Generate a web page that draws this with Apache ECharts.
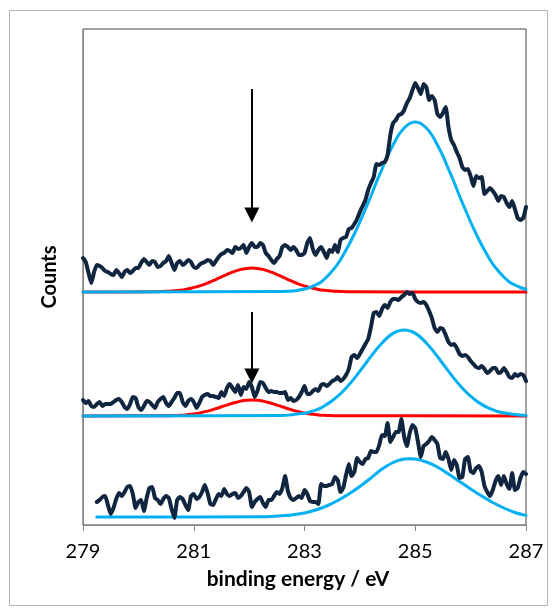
<!DOCTYPE html>
<html><head><meta charset="utf-8">
<script src="https://cdn.jsdelivr.net/npm/echarts@6/dist/echarts.min.js"></script>
<style>html,body{margin:0;padding:0;background:#fff}#c{width:552px;height:613px}</style>
</head><body><div id="c"></div><script>
// Measurement energies (eV), 0.05 eV steps
const energy = [279,279.05,279.1,279.15,279.2,279.25,279.3,279.35,279.4,279.45,279.5,279.55,279.6,279.65,279.7,279.75,279.8,279.85,279.9,279.95,
280,280.05,280.1,280.15,280.2,280.25,280.3,280.35,280.4,280.45,280.5,280.55,280.6,280.65,280.7,280.75,280.8,280.85,280.9,280.95,
281,281.05,281.1,281.15,281.2,281.25,281.3,281.35,281.4,281.45,281.5,281.55,281.6,281.65,281.7,281.75,281.8,281.85,281.9,281.95,
282,282.05,282.1,282.15,282.2,282.25,282.3,282.35,282.4,282.45,282.5,282.55,282.6,282.65,282.7,282.75,282.8,282.85,282.9,282.95,
283,283.05,283.1,283.15,283.2,283.25,283.3,283.35,283.4,283.45,283.5,283.55,283.6,283.65,283.7,283.75,283.8,283.85,283.9,283.95,
284,284.05,284.1,284.15,284.2,284.25,284.3,284.35,284.4,284.45,284.5,284.55,284.6,284.65,284.7,284.75,284.8,284.85,284.9,284.95,
285,285.05,285.1,285.15,285.2,285.25,285.3,285.35,285.4,285.45,285.5,285.55,285.6,285.65,285.7,285.75,285.8,285.85,285.9,285.95,
286,286.05,286.1,286.15,286.2,286.25,286.3,286.35,286.4,286.45,286.5,286.55,286.6,286.65,286.7,286.75,286.8,286.85,286.9,286.95,287];

// Measured spectra (offset, arbitrary counts)
const countsTop = [267,263,252,242,253,260,259,257,254,253,251,250,255,252,248,253,255,252,254,257,
257,262,266,263,260,264,263,258,259,262,264,269,262,255,262,264,260,262,265,263,
258,257,260,262,263,265,264,260,264,268,271,272,275,274,272,278,276,277,280,272,
278,282,278,278,282,280,272,269,265,262,266,269,278,280,278,275,278,275,270,270,
272,282,287,276,270,275,278,273,267,275,273,280,273,285,287,288,296,297,301,306,
313,319,325,335,342,348,361,360,362,363,370,390,402,405,410,411,415,422,427,435,
442,437,431,441,438,425,429,425,411,408,412,418,398,385,380,373,367,358,355,356,
349,339,349,347,348,331,334,337,334,330,324,329,328,322,318,324,316,307,305,307,318];

const countsMid = [125,122,124,119,118,121,123,119,121,121,121,123,125,126,123,118,116,121,128,127,
118,115,119,124,123,120,117,123,126,128,122,119,123,127,132,132,123,119,124,126,
123,117,122,128,130,131,129,129,128,127,133,129,137,141,137,133,140,130,138,136,
143,138,128,134,143,142,137,133,134,133,133,132,132,133,125,127,124,125,128,133,
139,131,131,134,136,134,140,141,139,141,144,145,148,144,146,150,156,168,170,167,
171,176,181,186,198,212,213,209,216,220,217,223,226,226,225,228,230,233,231,232,
226,223,222,223,220,214,207,197,193,197,196,190,183,180,181,177,171,169,170,168,
164,161,158,157,159,156,152,154,157,157,152,153,157,153,148,147,151,149,151,150,144];

// bottom spectrum starts at 279.25 eV
const energyBottom = energy.slice(5);
const countsBottom = [23,25,28,29,20,
11,17,26,32,29,33,38,39,31,17,23,25,14,27,37,38,27,25,21,26,
29,27,16,7,25,28,26,20,15,29,31,26,28,33,40,32,21,20,26,31,
29,36,31,29,31,32,27,29,33,37,33,18,23,26,28,22,18,25,25,29,
33,31,37,49,34,27,25,27,29,27,35,31,24,23,23,21,41,39,39,40,
41,48,45,33,37,50,61,49,53,67,63,61,66,67,74,73,73,80,90,89,
102,83,88,93,93,106,88,79,92,100,97,83,68,79,81,84,88,85,81,67,
66,73,66,55,65,60,47,48,66,68,54,52,57,59,53,39,33,29,35,44,
49,40,49,41,36,52,35,37,47,53,51];

// Fitted components
const fitTopMainE = [279,282.6,282.8,283,283.1,283.2,283.3,283.4,283.5,283.6,283.7,283.8,283.9,284,284.1,284.2,284.3,284.4,284.5,284.6,284.7,284.8,284.9,
285,285.1,285.2,285.3,285.4,285.5,285.6,285.7,285.8,285.9,286,286.1,286.2,286.3,286.4,286.5,286.6,286.7,286.8,286.9,287];
const fitTopMainC = [233,233.5,234,236,237.5,240,243,248,254,261,270,280,291,303,316,329,343,356,369,380,390,397,401.5,
403,401.5,397,390,380,369,356,343,329,316,303,291,280,270,261,254,248,243,240,237.5,235.5];

const fitTopMinorE = [279,280.25,280.35,280.45,280.55,280.65,280.75,280.85,280.95,281.05,281.15,281.25,281.35,281.45,281.55,281.65,281.75,281.85,281.95,
282.05,282.15,282.25,282.35,282.45,282.55,282.65,282.75,282.85,282.95,283.05,283.15,283.25,283.35,283.45,283.55,283.65,283.75,283.85,287];
const fitTopMinorC = [233,233.2,233.3,233.5,233.8,234.2,234.8,235.6,236.7,238.2,239.9,242,244.3,246.8,249.3,251.8,253.9,255.6,256.6,
257,256.6,255.6,253.9,251.8,249.3,246.8,244.3,242,239.9,238.2,236.7,235.6,234.8,234.2,233.8,233.5,233.3,233.2,233];

const fitMidMainE = [279,282.6,282.8,282.9,283,283.1,283.2,283.3,283.4,283.5,283.6,283.7,283.8,283.9,284,284.1,284.2,284.3,284.4,284.5,284.6,284.7,
284.8,284.9,285,285.1,285.2,285.3,285.4,285.5,285.6,285.7,285.8,285.9,286,286.1,286.2,286.3,286.4,286.5,286.6,286.7,286.8,287];
const fitMidMainC = [109,109.5,110.5,111.2,111.8,113,114.8,117.2,120.6,124.3,128.8,134,140,146.6,153.8,161.2,168.6,175.6,182,187.5,191.6,194.1,
195,194.1,191.6,187.5,182,175.6,168.6,161.2,153.8,146.6,140,134,128.8,124.3,120.6,117.6,115.3,113.3,112.2,111.2,110.5,109.6];

const fitMidMinorE = [279,280.55,280.65,280.75,280.85,280.95,281.05,281.15,281.25,281.35,281.45,281.55,281.65,281.75,281.85,281.95,
282.05,282.15,282.25,282.35,282.45,282.55,282.65,282.75,282.85,282.95,283.05,283.15,283.25,283.35,283.45,283.55,287];
const fitMidMinorC = [109,109.3,109.4,109.7,110.1,110.7,111.5,112.6,113.9,115.5,117.2,119.1,120.9,122.5,123.9,124.7,
125,124.7,123.9,122.5,120.9,119.1,117.2,115.5,113.9,112.6,111.5,110.7,110.1,109.7,109.4,109.3,109];

const fitBotMainE = [279.25,282.2,282.4,282.6,282.8,283,283.2,283.4,283.6,283.8,284,284.2,284.4,284.6,284.8,284.9,285,285.2,285.4,285.6,285.8,286,286.2,286.4,286.6,286.8,287];
const fitBotMainC = [8,8.2,8.5,9.3,10.3,12,15,19,24.5,31,38.5,47,56,62.5,66,66.3,66,63,58,51,43.5,36,29,22.5,17,12.5,9.6];

// Arrow annotations [energy, start count, head count]
const arrowTop = [282.05, 436, 310];
const arrowMid = [282.05, 213, 149];

const xTicks = [279, 281, 283, 285, 287];

const pairs = (xs, ys) => xs.map((x, i) => [x, ys[i]]);
const DATA_COLOR = '#10253f', BLUE = '#00b0f0', RED = '#ff0000';
const FONT = 'Lato';

function fitSeries(name, xs, ys, color) {
  return { name, type: 'line', data: pairs(xs, ys), showSymbol: false, smooth: 0.35, silent: true,
    lineStyle: { color, width: 3, cap: 'round', join: 'round' }, itemStyle: { color } };
}
function dataSeries(name, xs, ys, arrow) {
  const s = { name, type: 'line', data: pairs(xs, ys), showSymbol: false, smooth: 0.15, silent: true,
    lineStyle: { color: DATA_COLOR, width: 4, cap: 'round', join: 'round' }, itemStyle: { color: DATA_COLOR } };
  if (arrow) {
    s.markLine = { silent: true, symbol: ['none', 'triangle'], symbolSize: [15, 15], animation: false,
      label: { show: false }, lineStyle: { color: '#000', width: 2, type: 'solid' },
      data: [[{ coord: [arrow[0], arrow[1]] }, { coord: [arrow[0], arrow[2]] }]] };
  }
  return s;
}

const chart = echarts.init(document.getElementById('c'), null, { renderer: 'canvas' });
chart.setOption({
  animation: false,
  backgroundColor: '#fff',
  textStyle: { fontFamily: FONT },
  graphic: [{ type: 'rect', silent: true, z: -10, shape: { x: 9.5, y: 10.5, width: 538, height: 595 },
    style: { fill: 'none', stroke: '#b4b4b4', lineWidth: 1 } }],
  grid: { left: 83, top: 29, right: 26, bottom: 88, show: true, borderColor: '#404040', borderWidth: 1, backgroundColor: 'transparent' },
  xAxis: {
    type: 'value', min: xTicks[0], max: xTicks[xTicks.length - 1], interval: 2,
    name: 'binding energy / eV', nameLocation: 'middle', nameGap: 44,
    nameTextStyle: { fontFamily: FONT, fontWeight: 'bold', fontSize: 21, color: '#000', padding: [0, 13, 0, 0] },
    axisLine: { show: true, lineStyle: { color: '#868686', width: 1 } },
    axisTick: { show: true, length: 6, lineStyle: { color: '#868686' } },
    axisLabel: { fontFamily: FONT, fontSize: 20, color: '#000', margin: 17 },
    splitLine: { show: false }
  },
  yAxis: {
    type: 'value', min: 0, max: 496,
    name: 'Counts', nameLocation: 'middle', nameGap: 23, nameRotate: 90,
    nameTextStyle: { fontFamily: FONT, fontWeight: 'bold', fontSize: 20, color: '#000' },
    axisLine: { show: true, lineStyle: { color: '#868686', width: 1 } },
    axisTick: { show: false }, axisLabel: { show: false }, splitLine: { show: false }
  },
  series: [
    fitSeries('top minor', fitTopMinorE, fitTopMinorC, RED),
    fitSeries('mid minor', fitMidMinorE, fitMidMinorC, RED),
    fitSeries('top main', fitTopMainE, fitTopMainC, BLUE),
    fitSeries('mid main', fitMidMainE, fitMidMainC, BLUE),
    fitSeries('bottom main', fitBotMainE, fitBotMainC, BLUE),
    dataSeries('top', energy, countsTop, arrowTop),
    dataSeries('mid', energy, countsMid, arrowMid),
    dataSeries('bottom', energyBottom, countsBottom, null)
  ]
});
</script></body></html>
